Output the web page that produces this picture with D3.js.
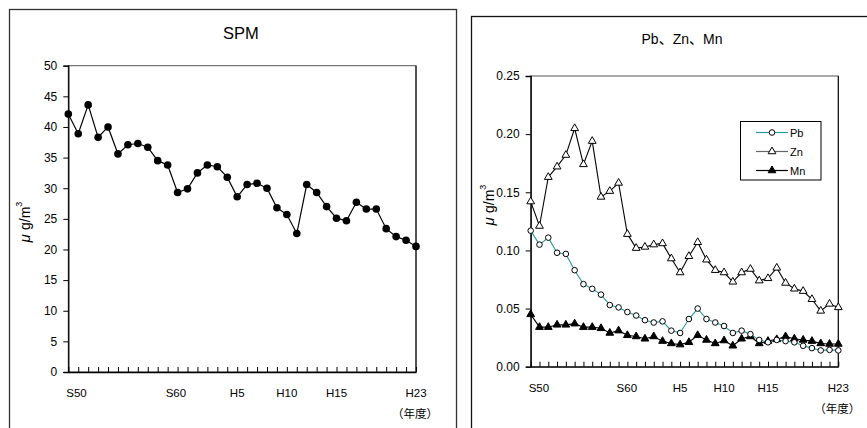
<!DOCTYPE html>
<html><head><meta charset="utf-8">
<script src="https://cdn.jsdelivr.net/npm/d3@7"></script>
<style>
body{margin:0;background:#fff;}
text{font-family:"Liberation Sans","Noto Sans CJK JP",Arial,sans-serif;fill:#000;}
</style></head>
<body><svg id="c" width="867" height="428"></svg>
<script>
// categories (fiscal years; one year absent in the record)
const categories = ["S50","S51","S52","S53","S54","S55","S56","S57","S58","S59","S60","S61","S62","S63",
  "H2","H3","H4","H5","H6","H7","H8","H9","H10","H11","H12","H13","H14","H15","H16","H17","H18","H19","H20","H21","H22","H23"];
const shownLabels = ["S50","S60","H5","H10","H15","H23"];
const spm = [42.1,38.9,43.6,38.3,40.0,35.6,37.1,37.3,36.7,34.5,33.8,29.3,29.9,32.5,33.8,33.5,31.8,28.6,30.6,30.8,30.0,26.8,25.7,22.6,30.6,29.3,27.0,25.1,24.7,27.7,26.6,26.6,23.4,22.1,21.5,20.5];
const pb = [0.117,0.105,0.111,0.098,0.097,0.083,0.071,0.067,0.062,0.053,0.051,0.047,0.044,0.040,0.038,0.039,0.031,0.029,0.041,0.050,0.041,0.038,0.035,0.029,0.031,0.028,0.023,0.021,0.023,0.022,0.021,0.018,0.016,0.014,0.0145,0.014];
const zn = [0.142,0.121,0.163,0.172,0.182,0.205,0.174,0.194,0.146,0.151,0.158,0.114,0.102,0.103,0.105,0.106,0.093,0.081,0.095,0.107,0.092,0.083,0.081,0.073,0.081,0.084,0.074,0.076,0.085,0.072,0.067,0.065,0.058,0.048,0.054,0.051];
const mn = [0.045,0.034,0.034,0.036,0.036,0.037,0.034,0.034,0.033,0.029,0.031,0.027,0.026,0.024,0.026,0.022,0.020,0.019,0.021,0.027,0.023,0.020,0.0225,0.018,0.024,0.026,0.020,0.022,0.0235,0.026,0.024,0.023,0.022,0.020,0.0195,0.0195];
const spmTicks = [0,5,10,15,20,25,30,35,40,45,50];
const metalTicks = [0,0.05,0.10,0.15,0.20,0.25];
const seriesNames = ["Pb","Zn","Mn"];

const svg = d3.select("#c");

// panel frames
svg.append("rect").attr("x",9.5).attr("y",9.5).attr("width",447).attr("height",440)
  .attr("fill","none").attr("stroke","#333").attr("stroke-width",1.3);
svg.append("rect").attr("x",471.5).attr("y",16.5).attr("width",420).attr("height",440)
  .attr("fill","none").attr("stroke","#111").attr("stroke-width",1.3);

function panel(o){
  const g = svg.append("g");
  const x = d3.scalePoint().domain(categories).range([o.left,o.right]);
  const y = d3.scaleLinear().domain(o.domain).range([o.bottom,o.top]);
  // plot area border
  g.append("rect").attr("x",o.left).attr("y",o.top).attr("width",o.right-o.left).attr("height",o.bottom-o.top)
    .attr("fill","none").attr("stroke","#555").attr("stroke-width",1);
  g.append("line").attr("x1",o.right).attr("x2",o.right).attr("y1",o.top).attr("y2",o.bottom).attr("stroke","#000");
  // y axis
  const ya = g.append("g").attr("transform",`translate(${o.left},0)`)
    .call(d3.axisLeft(y).tickValues(o.ticks).tickSize(5).tickPadding(6).tickFormat(o.fmt));
  ya.select(".domain").attr("stroke","#000").attr("stroke-width",1.3);
  ya.selectAll("text").style("font-size","12px").attr("fill","#000");
  // x axis: inward ticks
  const xa = g.append("g").attr("transform",`translate(0,${o.bottom})`)
    .call(d3.axisBottom(x).tickSize(-5).tickSizeOuter(0).tickFormat(""));
  xa.select(".domain").attr("stroke","#000").attr("stroke-width",1.3);
  xa.selectAll(".tick line").attr("stroke","#000");
  g.selectAll("text.xl").data(shownLabels).join("text").attr("class","xl")
    .attr("x",d=>x(d) + (d[0]==="S" ? -2 : 0))
    .attr("y",o.bottom+25)
    .attr("text-anchor",d=>d[0]==="S"?"start":"middle")
    .style("font-size","11.5px").text(d=>d);
  g.append("text").attr("x",o.right-1).attr("y",o.bottom+46).attr("text-anchor","middle")
    .style("font-size","11.5px").style("font-family","'Noto Sans CJK JP'").text("（年度）");
  // title
  g.append("text").attr("x",o.titleX).attr("y",o.titleY).attr("text-anchor","middle")
    .style("font-size",o.titleSize).text(o.title);
  // y label
  const yl = g.append("text").attr("transform",`translate(${o.ylX},${o.ylY}) rotate(-90)`)
    .attr("text-anchor","middle").style("font-size","14px");
  yl.append("tspan").style("font-style","italic").style("font-size","15px").text("μ ");
  yl.append("tspan").text("g/m");
  yl.append("tspan").attr("dy",-8).style("font-size","9px").text("3");
  return {g,x,y};
}

// SPM panel
const A = panel({left:68.3,right:416,top:65.7,bottom:372,domain:[0,50],ticks:spmTicks,fmt:d3.format("d"),
  title:"SPM",titleX:241,titleY:39,titleSize:"16.5px",ylX:30,ylY:222});
A.g.append("path").datum(spm).attr("fill","none").attr("stroke","#000").attr("stroke-width",1.2)
  .attr("d",d3.line().x((d,i)=>A.x(categories[i])).y(d=>A.y(d)));
A.g.selectAll("circle.s").data(spm).join("circle").attr("class","s")
  .attr("cx",(d,i)=>A.x(categories[i])).attr("cy",d=>A.y(d)).attr("r",3.8).attr("fill","#000");

// Metals panel
const B = panel({left:530.7,right:838.3,top:76,bottom:366.7,domain:[0,0.25],ticks:metalTicks,fmt:d3.format(".2f"),
  title:"Pb、Zn、Mn",titleX:682,titleY:44,titleSize:"14px",ylX:494,ylY:205});
const colors = {Pb:"#2a9a9a",Zn:"#000",Mn:"#000"};
const data = {Pb:pb,Zn:zn,Mn:mn};
const tri = d3.symbol().type(d3.symbolTriangle).size(26);
const line = d3.line().x((d,i)=>B.x(categories[i])).y(d=>B.y(d));
["Zn","Mn","Pb"].forEach(k=>{
  B.g.append("path").datum(data[k]).attr("fill","none").attr("stroke",colors[k]).attr("stroke-width",1.1).attr("d",line);
});
// markers
B.g.selectAll("path.zn").data(zn).join("path").attr("class","zn")
  .attr("transform",(d,i)=>`translate(${B.x(categories[i])},${B.y(d)})`).attr("d",tri)
  .attr("fill","#fff").attr("stroke","#000").attr("stroke-width",1);
B.g.selectAll("path.mn").data(mn).join("path").attr("class","mn")
  .attr("transform",(d,i)=>`translate(${B.x(categories[i])},${B.y(d)})`).attr("d",tri)
  .attr("fill","#000").attr("stroke","#000").attr("stroke-width",1);
B.g.selectAll("circle.pb").data(pb).join("circle").attr("class","pb")
  .attr("cx",(d,i)=>B.x(categories[i])).attr("cy",d=>B.y(d)).attr("r",2.8)
  .attr("fill","#fff").attr("stroke","#000").attr("stroke-width",1);

// legend
const lg = svg.append("g");
lg.append("rect").attr("x",740.5).attr("y",121.5).attr("width",80.5).attr("height",58.5)
  .attr("fill","#fff").attr("stroke","#000").attr("stroke-width",1);
const legColors = {Pb:"#2a9a9a",Zn:"#666",Mn:"#000"};
seriesNames.forEach((k,i)=>{
  const yy = 132.5 + i*19;
  lg.append("line").attr("x1",756).attr("x2",788).attr("y1",yy).attr("y2",yy).attr("stroke",legColors[k]).attr("stroke-width",1.2);
  if(k==="Pb") lg.append("circle").attr("cx",772).attr("cy",yy).attr("r",2.8).attr("fill","#fff").attr("stroke","#000");
  else lg.append("path").attr("transform",`translate(772,${yy})`).attr("d",tri)
      .attr("fill",k==="Zn"?"#fff":"#000").attr("stroke","#000");
  lg.append("text").attr("x",790).attr("y",yy+4).style("font-size","11px").text(k);
});
</script></body></html>
